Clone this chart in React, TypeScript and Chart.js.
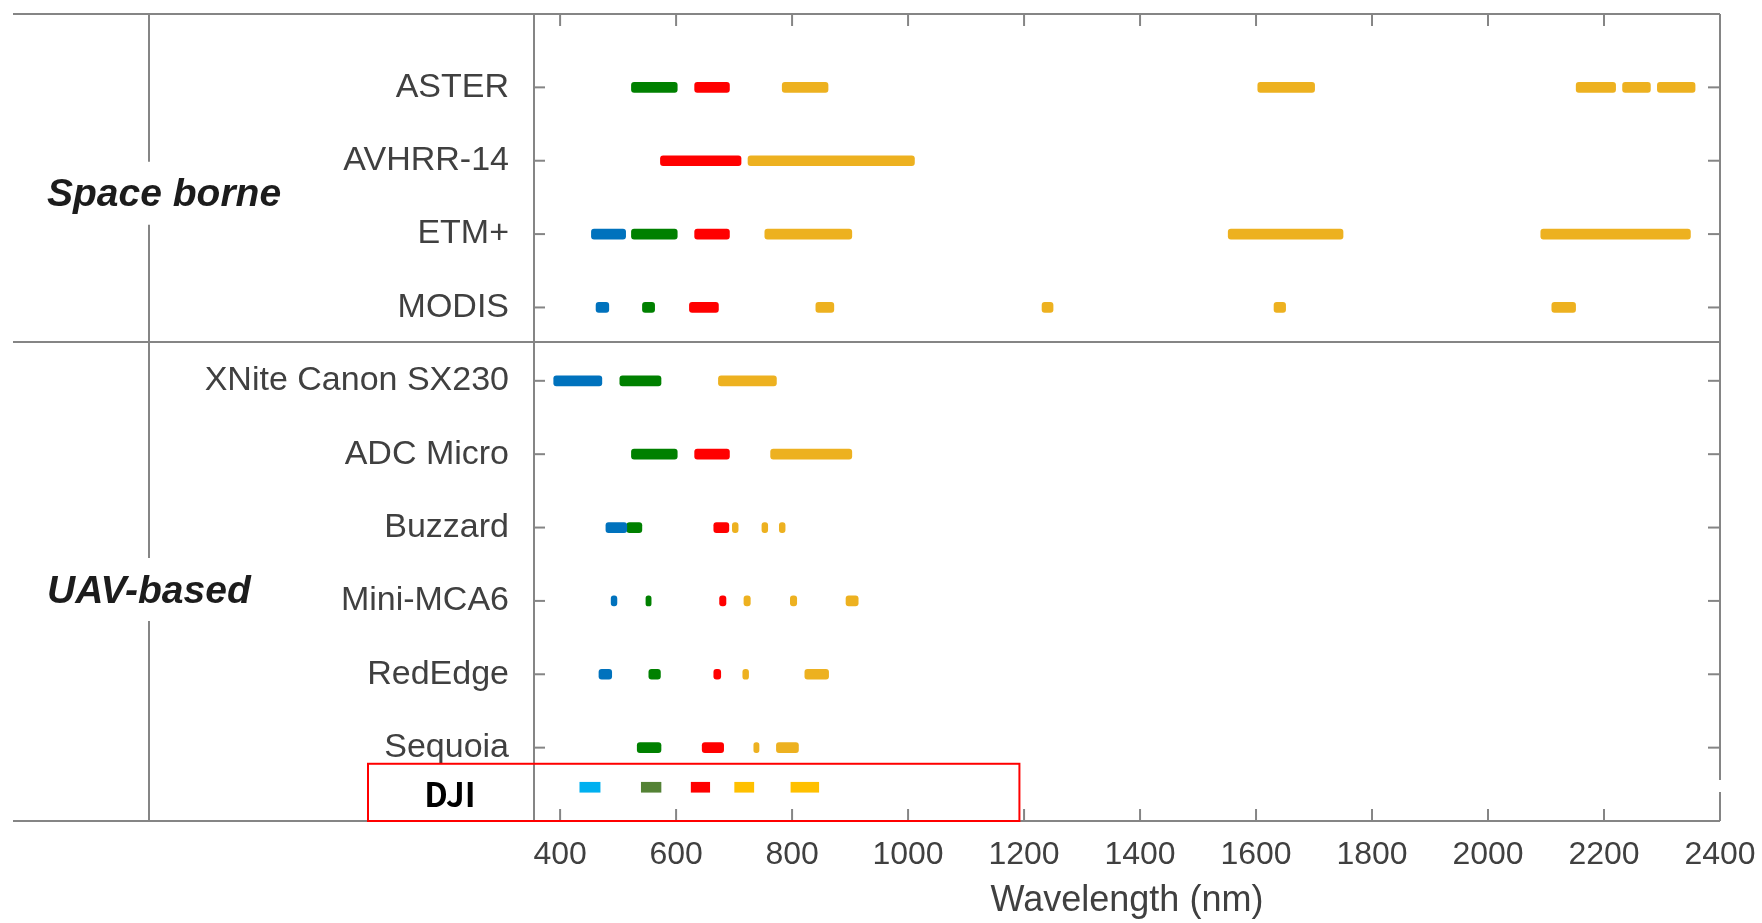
import { useEffect, useRef } from 'react';
import { Chart, registerables } from 'chart.js';

Chart.register(...registerables);

// ---------- data ----------
const sensors = [
  'ASTER',
  'AVHRR-14',
  'ETM+',
  'MODIS',
  'XNite Canon SX230',
  'ADC Micro',
  'Buzzard',
  'Mini-MCA6',
  'RedEdge',
  'Sequoia',
];

const wavelengthTicks = [400, 600, 800, 1000, 1200, 1400, 1600, 1800, 2000, 2200, 2400];

const groupLabels = ['Space borne', 'UAV-based'];

// [sensor, from nm, to nm]
const blueBands: [string, number, number][] = [
  ['ETM+', 454, 513],
  ['MODIS', 462, 484],
  ['XNite Canon SX230', 389, 472],
  ['Buzzard', 479, 515],
  ['Mini-MCA6', 488, 498],
  ['RedEdge', 467, 489],
];

const greenBands: [string, number, number][] = [
  ['ASTER', 523, 602],
  ['ETM+', 523, 602],
  ['MODIS', 542, 563],
  ['XNite Canon SX230', 503, 574],
  ['ADC Micro', 523, 602],
  ['Buzzard', 515, 541],
  ['Mini-MCA6', 548, 557],
  ['RedEdge', 553, 573],
  ['Sequoia', 533, 574],
];

const redBands: [string, number, number][] = [
  ['ASTER', 632, 692],
  ['AVHRR-14', 573, 712],
  ['ETM+', 632, 692],
  ['MODIS', 623, 673],
  ['ADC Micro', 632, 692],
  ['Buzzard', 665, 691],
  ['Mini-MCA6', 675, 686],
  ['RedEdge', 665, 677],
  ['Sequoia', 645, 682],
];

const nirBands: [string, number, number][] = [
  ['ASTER', 783, 862],
  ['ASTER', 1603, 1701],
  ['ASTER', 2152, 2220],
  ['ASTER', 2232, 2280],
  ['ASTER', 2292, 2357],
  ['AVHRR-14', 724, 1011],
  ['ETM+', 753, 903],
  ['ETM+', 1552, 1750],
  ['ETM+', 2091, 2349],
  ['MODIS', 841, 872],
  ['MODIS', 1231, 1250],
  ['MODIS', 1631, 1651],
  ['MODIS', 2110, 2151],
  ['XNite Canon SX230', 673, 773],
  ['ADC Micro', 763, 903],
  ['Buzzard', 697, 707],
  ['Buzzard', 748, 758],
  ['Buzzard', 778, 788],
  ['Mini-MCA6', 717, 728],
  ['Mini-MCA6', 797, 808],
  ['Mini-MCA6', 893, 914],
  ['RedEdge', 715, 725],
  ['RedEdge', 822, 863],
  ['Sequoia', 734, 743],
  ['Sequoia', 773, 811],
];

// DJI bands [from, to]: blue, green, red, red edge, NIR
const djiLabel = 'DJI';
const djiBlue: [number, number][] = [[434, 469]];
const djiGreen: [number, number][] = [[540, 574]];
const djiRed: [number, number][] = [[626, 658]];
const djiRedEdge: [number, number][] = [[701, 734]];
const djiNir: [number, number][] = [[798, 846]];

// ---------- layout / style constants ----------
const W = 1762;
const H = 923;
const DJI_ROW = 9.54;
const SEPARATOR_ROW = 3.47;
const GROUP_LABEL_ROWS = [1.45, 6.85];
const FRAME_LEFT = 13;
const DIVIDER_X = 149;
const GROUP_LABEL_X = 47;
const FRAME_COLOR = '#858585';
const TEXT_COLOR = '#404040';
const FONT = "'Liberation Sans', Arial, sans-serif";

const COLORS = {
  blue: '#0072BD',
  green: '#008000',
  red: '#FF0000',
  nir: '#EDB120',
  djiBlue: '#00B0F0',
  djiGreen: '#548235',
  djiRed: '#FF0000',
  djiYellow: '#FFC000',
};

const toPoints = (bands: [string, number, number][]) =>
  bands.map(([s, a, b]) => ({ y: sensors.indexOf(s), x: [a, b] }));
const toDjiPoints = (bands: [number, number][]) => bands.map(([a, b]) => ({ y: DJI_ROW, x: [a, b] }));

const framePlugin = {
  id: 'framePlugin',
  afterDraw(chart: any) {
    const { ctx, chartArea: a, scales } = chart;
    const x = scales.x;
    const y = scales.y;
    ctx.save();
    ctx.strokeStyle = FRAME_COLOR;
    ctx.lineWidth = 2;
    const line = (x1: number, y1: number, x2: number, y2: number) => {
      ctx.beginPath();
      ctx.moveTo(x1, y1);
      ctx.lineTo(x2, y2);
      ctx.stroke();
    };
    // horizontal frame lines
    line(FRAME_LEFT, a.top, a.right, a.top);
    line(FRAME_LEFT, a.bottom, a.right, a.bottom);
    line(FRAME_LEFT, y.getPixelForValue(SEPARATOR_ROW), a.right, y.getPixelForValue(SEPARATOR_ROW));
    // left axis
    line(a.left, a.top, a.left, a.bottom);
    // right axis (with the small gap of the pasted DJI row)
    line(a.right, a.top, a.right, a.bottom - 41);
    line(a.right, a.bottom - 29, a.right, a.bottom);
    // y ticks (inside, both sides)
    sensors.forEach((_, i) => {
      const py = y.getPixelForValue(i);
      line(a.left, py, a.left + 11, py);
      line(a.right - 12, py, a.right, py);
    });
    // x ticks (inside, top and bottom)
    wavelengthTicks.forEach((v) => {
      const px = x.getPixelForValue(v);
      line(px, a.bottom, px, a.bottom - 12);
      line(px, a.top, px, a.top + 12);
    });
    // group divider with gaps for the labels
    const gaps = GROUP_LABEL_ROWS.map((r) => y.getPixelForValue(r));
    let start = a.top;
    gaps.forEach((g) => {
      line(DIVIDER_X, start, DIVIDER_X, g - 32);
      start = g + 31;
    });
    line(DIVIDER_X, start, DIVIDER_X, a.bottom);
    // group labels
    ctx.fillStyle = '#1c1c1c';
    ctx.font = `italic bold 39px ${FONT}`;
    ctx.textAlign = 'left';
    ctx.textBaseline = 'middle';
    groupLabels.forEach((t, i) => ctx.fillText(t, GROUP_LABEL_X, gaps[i] + 2));
    // DJI label and highlight box
    ctx.fillStyle = '#000';
    ctx.font = `bold 33px 'Noto Sans CJK SC', 'Noto Sans', sans-serif`;
    ctx.textAlign = 'center';
    ctx.fillText(djiLabel, 450, y.getPixelForValue(DJI_ROW) + 7);
    ctx.strokeStyle = '#FF0000';
    ctx.lineWidth = 2;
    const boxTop = y.getPixelForValue(9.22);
    const boxRight = x.getPixelForValue(1192);
    ctx.strokeRect(368, boxTop, boxRight - 368, a.bottom - boxTop);
    ctx.restore();
  },
};

export default function App() {
  const ref = useRef<HTMLCanvasElement>(null);

  useEffect(() => {
    document.body.style.margin = '0';
    document.body.style.overflow = 'hidden';
    const canvas = ref.current;
    if (!canvas) return;
    const matlab = { borderRadius: 3, borderSkipped: false as const, barThickness: 10, grouped: false };
    const dji = { borderRadius: 0, borderSkipped: false as const, barThickness: 10, grouped: false };
    const chart = new Chart(canvas, {
      type: 'bar',
      data: {
        datasets: [
          { label: 'Blue', data: toPoints(blueBands) as any, backgroundColor: COLORS.blue, ...matlab },
          { label: 'Green', data: toPoints(greenBands) as any, backgroundColor: COLORS.green, ...matlab },
          { label: 'Red', data: toPoints(redBands) as any, backgroundColor: COLORS.red, ...matlab },
          { label: 'NIR / SWIR', data: toPoints(nirBands) as any, backgroundColor: COLORS.nir, ...matlab },
          { label: 'DJI Blue', data: toDjiPoints(djiBlue) as any, backgroundColor: COLORS.djiBlue, ...dji },
          { label: 'DJI Green', data: toDjiPoints(djiGreen) as any, backgroundColor: COLORS.djiGreen, ...dji },
          { label: 'DJI Red', data: toDjiPoints(djiRed) as any, backgroundColor: COLORS.djiRed, ...dji },
          { label: 'DJI Red Edge', data: toDjiPoints(djiRedEdge) as any, backgroundColor: COLORS.djiYellow, ...dji },
          { label: 'DJI NIR', data: toDjiPoints(djiNir) as any, backgroundColor: COLORS.djiYellow, ...dji },
        ],
      },
      options: {
        indexAxis: 'y',
        responsive: false,
        animation: false,
        devicePixelRatio: 1,
        layout: { padding: { top: 14, right: 42, left: 0, bottom: 0 } },
        plugins: { legend: { display: false }, tooltip: { enabled: false } },
        scales: {
          x: {
            type: 'linear',
            min: 355,
            max: 2400,
            offset: false,
            grid: { display: false, drawTicks: false, offset: false },
            border: { display: false },
            afterBuildTicks: (s: any) => {
              s.ticks = wavelengthTicks.map((v) => ({ value: v }));
            },
            afterFit: (s: any) => {
              s.height = 102;
              s.paddingLeft = 0;
              s.paddingRight = 0;
            },
            ticks: {
              autoSkip: false,
              maxRotation: 0,
              padding: 15,
              color: TEXT_COLOR,
              font: { family: FONT, size: 32 },
              callback: (v: any) => String(v),
            },
            title: {
              display: true,
              text: 'Wavelength (nm)',
              color: TEXT_COLOR,
              font: { family: FONT, size: 36 },
              padding: { top: 0, bottom: 0 },
            },
          },
          y: {
            type: 'linear',
            min: -1,
            max: 10,
            reverse: true,
            offset: false,
            grid: { display: false, drawTicks: false, offset: false },
            border: { display: false },
            afterBuildTicks: (s: any) => {
              s.ticks = sensors.map((_, i) => ({ value: i }));
            },
            afterFit: (s: any) => {
              s.width = 534;
              s.paddingTop = 0;
              s.paddingBottom = 0;
            },
            ticks: {
              autoSkip: false,
              padding: 25,
              color: TEXT_COLOR,
              font: { family: FONT, size: 34 },
              callback: (v: any) => sensors[v as number] ?? '',
            },
          },
        },
      },
      plugins: [framePlugin],
    });
    return () => chart.destroy();
  }, []);

  return (
    <div style={{ width: W, height: H }}>
      <canvas ref={ref} width={W} height={H} />
    </div>
  );
}
